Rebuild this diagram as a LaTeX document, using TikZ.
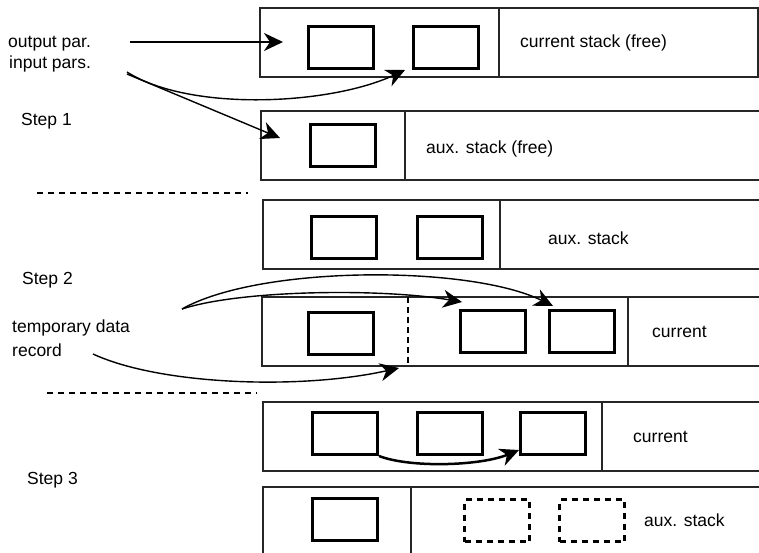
\documentclass[tikz,border=0pt]{standalone}
\usepackage{fontspec}
\setmainfont{Liberation Sans}
\usetikzlibrary{arrows.meta}
\begin{document}
\begin{tikzpicture}[x=1pt,y=-1pt,
  frame/.style={draw=black!85, line width=1.4pt},
  ibox/.style={draw=black, line width=3pt, minimum width=65pt, minimum height=42pt, inner sep=0pt, anchor=north west},
  dbox/.style={ibox, dash pattern=on 6pt off 5pt},
  lbl/.style={anchor=base west, inner sep=0pt, font=\fontsize{17.5}{21}\selectfont},
  arr/.style={line width=1.4pt, -{Stealth[length=19pt,width=18pt,inset=6pt]}},
  sepline/.style={line width=1.4pt, dash pattern=on 6pt off 5pt}]
\useasboundingbox (0,0) rectangle (759,552);

% ---- Step 1 ----
\draw[frame] (260,8) -- (758,8) -- (758,77) -- (260,77) -- cycle;
\draw[frame] (499,8) -- (499,77);
\node[ibox] (b11) at (307,25) {};
\node[ibox] (b12) at (412,25) {};
\node[lbl] (t1) at (520,47) {current stack (free)};

\draw[frame] (759,111) -- (261,111) -- (261,180) -- (759,180);
\draw[frame] (405,111) -- (405,180);
\node[ibox] (b21) at (309,123) {};
\node[lbl] (t2) at (426,153) {aux. stack (free)};

\node[lbl] (op) at (8,47) {output par.};
\node[lbl] (ip) at (9,68) {input pars.};
\node[lbl] (s1) at (21,125) {Step 1};

\coordinate (opS) at (130,42);
\coordinate (opE) at (283,42);
\coordinate (ipS) at (127,72);
\coordinate (ipS2) at (127,74);
\coordinate (ipE) at (405,70);
\coordinate (ipE2) at (280,138);
\draw[arr] (opS) -- (opE);
\draw[arr] (ipS) .. controls (190,112) and (330,105) .. (ipE);
\draw[arr] (ipS2) -- (ipE2);

\coordinate (d1a) at (37,193);
\coordinate (d1b) at (248,193);
\draw[sepline] (d1a) -- (d1b);

% ---- Step 2 ----
\draw[frame] (759,200) -- (263,200) -- (263,269) -- (759,269);
\draw[frame] (500,200) -- (500,269);
\node[ibox] (b31) at (310,215) {};
\node[ibox] (b32) at (416,215) {};
\node[lbl] (t3) at (548,244) {aux. stack};

\node[lbl] (s2) at (22,284) {Step 2};
\node[lbl] (tmp) at (12,332) {temporary data};
\node[lbl] (rec) at (12,356) {record};

\draw[frame] (759,297) -- (262,297) -- (262,366) -- (759,366);
\draw[line width=1.4pt, dash pattern=on 6pt off 4pt] (408,297) -- (408,366);
\draw[frame] (628,297) -- (628,366);
\node[ibox] (b41) at (307,311) {};
\node[ibox] (b42) at (459,309) {};
\node[ibox] (b43) at (548,309) {};
\node[lbl] (t4) at (652,337) {current};

\coordinate (aS) at (182,309);
\coordinate (aE1) at (462,302);
\coordinate (aE2) at (553,306);
\draw[arr] (aS) .. controls (240,290) and (380,288) .. (aE1);
\draw[arr] (aS) .. controls (260,265) and (470,265) .. (aE2);
\coordinate (rS) at (93,354);
\coordinate (rE) at (399,368);
\draw[arr] (rS) .. controls (160,385) and (300,390) .. (rE);

\coordinate (d2a) at (47,393);
\coordinate (d2b) at (257,393);
\draw[sepline] (d2a) -- (d2b);

% ---- Step 3 ----
\draw[frame] (759,402) -- (263,402) -- (263,471) -- (759,471);
\draw[frame] (602,402) -- (602,471);
\node[ibox] (b51) at (311,411) {};
\node[ibox] (b52) at (416,411) {};
\node[ibox] (b53) at (519,411) {};
\node[lbl] (t5) at (633,442) {current};
\draw[line width=2.5pt, -{Stealth[length=19pt,width=18pt,inset=6pt]}] (b51.south east) .. controls (410,468) and (480,466) .. (b53.west |- 0,450);

\node[lbl] (s3) at (27,484) {Step 3};

\draw[frame] (759,487) -- (263,487) -- (263,560);
\draw[frame] (411,487) -- (411,560);
\node[ibox] (b61) at (311,497) {};
\node[dbox] (b62) at (463,498) {};
\node[dbox] (b63) at (558,498) {};
\node[lbl] (t6) at (644,526) {aux. stack};
\end{tikzpicture}
\end{document}
